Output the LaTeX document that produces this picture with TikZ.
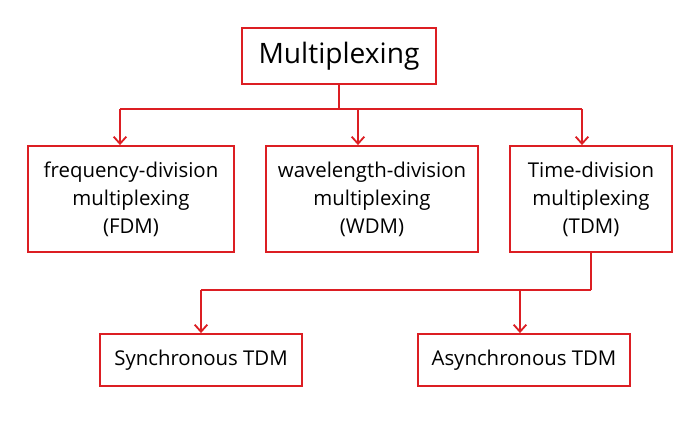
\documentclass[tikz,border=0pt]{standalone}
\usepackage{fontspec}
\setmainfont{Open Sans}
\usetikzlibrary{arrows.meta, positioning, calc}
\definecolor{boxred}{RGB}{220,30,35}
\tikzset{
    >={Straight Barb[length=5pt,width=9pt]},
    box/.style={draw=boxred, line width=1.3pt, align=center, inner sep=0pt,
        font=\fontsize{14.5}{20}\selectfont},
    link/.style={draw=boxred, line width=1.3pt}
}
\begin{document}
\begin{tikzpicture}[x=0.025cm, y=-0.025cm]
    \useasboundingbox[fill=white] (0,0) rectangle (700,446);
    % boxes
    \node[box, minimum width=4.85cm, minimum height=1.4cm, font=\fontsize{20}{22}\selectfont]
        (mux) at (339,56) {Multiplexing};
    \node[box, minimum width=5.15cm, minimum height=2.65cm] (fdm) at (131,199)
        {frequency-division\\multiplexing\\(FDM)};
    \node[box, minimum width=5.3cm, minimum height=2.65cm] (wdm) at (372,199)
        {wavelength-division\\multiplexing\\(WDM)};
    \node[box, minimum width=4.05cm, minimum height=2.65cm] (tdm) at (591,199)
        {Time-division\\multiplexing\\(TDM)};
    \node[box, minimum width=5.05cm, minimum height=1.3cm] (sync) at (201,360)
        {Synchronous TDM};
    \node[box, minimum width=5.3cm, minimum height=1.3cm] (async) at (524,360)
        {Asynchronous TDM};
    % upper tree
    \coordinate (bus1) at ($(mux.south)+(0,24)$);
    \coordinate (f1) at (120,0);
    \coordinate (w1) at (358,0);
    \coordinate (t1) at (582,0);
    \draw[link] (mux.south) -- (bus1);
    \draw[link] (bus1 -| f1) -- (bus1 -| t1);
    \draw[link, ->] (bus1 -| f1) -- (fdm.north -| f1);
    \draw[link, ->] (bus1 -| w1) -- (wdm.north -| w1);
    \draw[link, ->] (bus1 -| t1) -- (tdm.north -| t1);
    % lower tree
    \coordinate (bus2) at (0,290);
    \coordinate (a1) at (520,0);
    \draw[link] (tdm.south) -- (tdm.south |- bus2);
    \draw[link] (tdm.south |- bus2) -- (bus2 -| sync.north);
    \draw[link, ->] (bus2 -| sync.north) -- (sync.north);
    \draw[link, ->] (bus2 -| a1) -- (async.north -| a1);
\end{tikzpicture}
\end{document}
